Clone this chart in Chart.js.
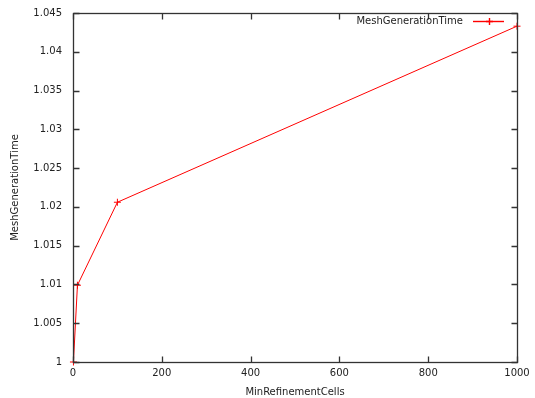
<!DOCTYPE html>
<html>
<head>
<meta charset="utf-8">
<script src="https://cdn.jsdelivr.net/npm/chart.js@4.4.1/dist/chart.umd.min.js"></script>
<style>
  html, body { margin: 0; padding: 0; background: #ffffff; }
  #wrap { width: 535px; height: 398px; }
</style>
</head>
<body>
<div id="wrap"><canvas id="c" width="535" height="398"></canvas></div>
<script>
// Mesh generation time against the minimum number of refinement cells
const minRefinementCells = [1, 10, 100, 1000];
const meshGenerationTime = [1.0, 1.0099, 1.0206, 1.0433];
const seriesName = 'MeshGenerationTime';
const xTickValues = [0, 200, 400, 600, 800, 1000];
const yTickValues = [1, 1.005, 1.01, 1.015, 1.02, 1.025, 1.03, 1.035, 1.04, 1.045];
const xTitle = 'MinRefinementCells';
const yTitle = 'MeshGenerationTime';

const FONT = 'DejaVu Sans';
const TEXT = '#222222';
const FRAME = '#333333';
const SERIES_RED = '#ff0000';

// Full frame with inward tick marks on all four sides, plus the key
const framePlugin = {
  id: 'frame',
  afterDatasetsDraw(chart) {
    const { ctx, chartArea: a, scales } = chart;
    const L = Math.round(a.left) + 0.5, R = Math.round(a.right) + 0.5;
    const T = Math.round(a.top) + 0.5, B = Math.round(a.bottom) + 0.5;
    ctx.save();
    ctx.strokeStyle = FRAME;
    ctx.lineWidth = 1.3;
    ctx.strokeRect(L, T, R - L, B - T);
    const tl = 6;
    ctx.beginPath();
    for (const v of xTickValues) {
      const x = Math.round(scales.x.getPixelForValue(v)) + 0.5;
      ctx.moveTo(x, B); ctx.lineTo(x, B - tl);
      ctx.moveTo(x, T); ctx.lineTo(x, T + tl);
    }
    for (const v of yTickValues) {
      const y = Math.round(scales.y.getPixelForValue(v)) + 0.5;
      ctx.moveTo(L, y); ctx.lineTo(L + tl, y);
      ctx.moveTo(R, y); ctx.lineTo(R - tl, y);
    }
    ctx.stroke();

    // key inside the top-right corner: label, then line sample with cross marker
    const ds = chart.data.datasets[0];
    const ky = Math.round(a.top) + 8.5;
    const sampleRight = Math.round(a.right) - 13;
    const sampleLeft = sampleRight - 31;
    ctx.font = '10px "' + FONT + '"';
    ctx.fillStyle = TEXT;
    ctx.textAlign = 'right';
    ctx.textBaseline = 'middle';
    ctx.fillText(ds.label, sampleLeft - 10, ky);
    ctx.strokeStyle = ds.borderColor;
    ctx.lineWidth = 1.4;
    ctx.beginPath();
    ctx.moveTo(sampleLeft, ky);
    ctx.lineTo(sampleRight, ky);
    ctx.stroke();
    Chart.helpers.drawPoint(ctx, {
      pointStyle: 'cross', radius: 3.5, rotation: 0, borderWidth: 1.4
    }, Math.round((sampleLeft + sampleRight) / 2) + 0.5, ky);
    ctx.restore();
  }
};

const fmt = v => String(parseFloat(Number(v).toFixed(3)));

new Chart(document.getElementById('c'), {
  type: 'line',
  data: {
    datasets: [{
      label: seriesName,
      data: minRefinementCells.map((x, i) => ({ x: x, y: meshGenerationTime[i] })),
      borderColor: SERIES_RED,
      backgroundColor: SERIES_RED,
      borderWidth: 1,
      pointStyle: 'cross',
      pointRadius: 3.5,
      pointBorderWidth: 1,
      pointBorderColor: SERIES_RED,
      tension: 0,
      fill: false,
      clip: false
    }]
  },
  options: {
    responsive: false,
    animation: false,
    devicePixelRatio: 1,
    layout: { padding: { top: 13, right: 18, left: 0, bottom: 0 } },
    plugins: {
      legend: { display: false },
      tooltip: { enabled: false }
    },
    scales: {
      x: {
        type: 'linear',
        min: 0,
        max: 1000,
        afterBuildTicks: s => { s.ticks = xTickValues.map(v => ({ value: v })); },
        afterFit: s => { s.height = 36; },
        grid: { display: false, drawTicks: false },
        border: { display: false },
        ticks: {
          color: TEXT,
          font: { family: FONT, size: 10 },
          padding: 5,
          maxRotation: 0,
          callback: v => fmt(v)
        },
        title: {
          display: true,
          text: xTitle,
          color: TEXT,
          font: { family: FONT, size: 10 },
          padding: { top: 1, bottom: 0 }
        }
      },
      y: {
        type: 'linear',
        min: 1,
        max: 1.045,
        afterBuildTicks: s => { s.ticks = yTickValues.map(v => ({ value: v })); },
        afterFit: s => { s.width = 73; s.paddingTop = 0; s.paddingBottom = 0; },
        grid: { display: false, drawTicks: false },
        border: { display: false },
        ticks: {
          color: TEXT,
          font: { family: FONT, size: 10 },
          padding: 11,
          callback: v => fmt(v)
        },
        title: {
          display: true,
          text: yTitle,
          color: TEXT,
          font: { family: FONT, size: 10 },
          padding: { top: 9, bottom: 0 }
        }
      }
    }
  },
  plugins: [framePlugin]
});
</script>
</body>
</html>
